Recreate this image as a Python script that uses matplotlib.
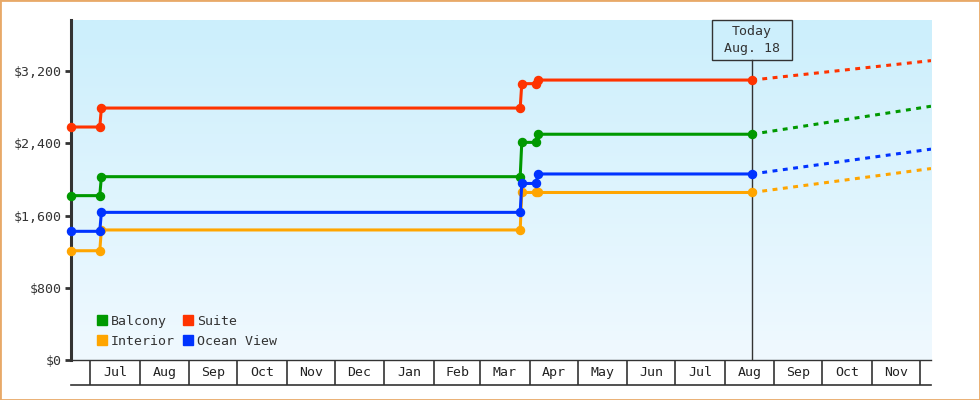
import matplotlib
matplotlib.use("Agg")
import matplotlib.pyplot as plt
import matplotlib.dates as mdates
from matplotlib.colors import LinearSegmentedColormap
from matplotlib.lines import Line2D
from matplotlib.patches import Rectangle
from matplotlib.ticker import FuncFormatter
import numpy as np
import pandas as pd

# observed fares (price changes)
dates = pd.to_datetime(["2023-06-19", "2023-07-07", "2023-07-08", "2024-03-26",
                        "2024-03-27", "2024-04-05", "2024-04-06", "2024-08-18"])
balcony = [1820, 1820, 2030, 2030, 2410, 2410, 2500, 2500]
suite = [2580, 2580, 2790, 2790, 3060, 3060, 3100, 3100]
interior = [1210, 1210, 1440, 1440, 1855, 1855, 1855, 1855]
ocean_view = [1425, 1425, 1635, 1635, 1955, 1955, 2060, 2060]

# forecast
forecast_dates = pd.to_datetime(["2024-08-18", "2024-12-08"])
balcony_fc = [2500, 2810]
suite_fc = [3100, 3315]
interior_fc = [1855, 2120]
ocean_view_fc = [2060, 2335]

today = pd.Timestamp("2024-08-18")
today_label = "Today\nAug. 18"
x_start, x_end = pd.Timestamp("2023-06-19"), pd.Timestamp("2024-12-08")
month_starts = pd.date_range("2023-07-01", "2024-12-01", freq="MS")
month_labels = ["Jul", "Aug", "Sep", "Oct", "Nov", "Dec", "Jan", "Feb", "Mar",
                "Apr", "May", "Jun", "Jul", "Aug", "Sep", "Oct", "Nov"]
y_ticks = [0, 800, 1600, 2400, 3200]
y_max = 3765

series = [
    ("Balcony", balcony, balcony_fc, "#009900"),
    ("Suite", suite, suite_fc, "#ff3300"),
    ("Interior", interior, interior_fc, "#ffa500"),
    ("Ocean View", ocean_view, ocean_view_fc, "#0033ff"),
]

plt.rcParams["font.family"] = ["DejaVu Sans Mono"]
dark = "#333333"

fig = plt.figure(figsize=(9.8, 4), dpi=100)
fig.patch.set_facecolor("white")
fig.patches.append(Rectangle((0, 0), 1, 1, transform=fig.transFigure, fill=False,
                             edgecolor="#e8a968", linewidth=2))

ax = fig.add_axes([71 / 980, 40 / 400, 860 / 980, 340 / 400])
band = fig.add_axes([71 / 980, 15 / 400, 860 / 980, 25 / 400])

# gradient background
cmap = LinearSegmentedColormap.from_list("bg", ["#f0f9ff", "#cceffc"])
ax.imshow(np.linspace(0, 1, 256).reshape(-1, 1), extent=[0, 1, 0, 1],
          transform=ax.transAxes, origin="lower", aspect="auto", cmap=cmap, zorder=0)

for name, vals, fc, color in series:
    ax.plot(dates, vals, color=color, lw=2.2, marker="o", markersize=5.8,
            solid_joinstyle="miter", clip_on=False, zorder=3)
    ax.plot(forecast_dates, fc, color=color, lw=2.2, linestyle=(0, (1.6, 1.8)),
            zorder=3)

ax.set_xlim(x_start, x_end)
ax.set_ylim(0, y_max)
ax.set_yticks(y_ticks)
ax.yaxis.set_major_formatter(FuncFormatter(lambda v, p: "${:,.0f}".format(v)))
ax.tick_params(axis="y", direction="out", length=4, width=2, color=dark,
               labelcolor=dark, labelsize=9.5, pad=3)
ax.set_xticks([])
for s in ["top", "right"]:
    ax.spines[s].set_visible(False)
ax.spines["left"].set_linewidth(2.2)
ax.spines["left"].set_color(dark)
ax.spines["bottom"].set_linewidth(1)
ax.spines["bottom"].set_color(dark)

# today marker and box
fig.canvas.draw()
tx, _ = ax.transData.transform((mdates.date2num(today), 0))
box_w, box_h = 80, 40
top_px = ax.transAxes.transform((0, 1))[1]
ax.axvline(today, ymin=0, ymax=(340 - box_h) / 340, color=dark, lw=1, zorder=2)
fig.patches.append(Rectangle((tx - box_w / 2, top_px - box_h), box_w, box_h,
                             transform=None, fill=False, edgecolor=dark, lw=1))
fig.text(tx / 980, (top_px - box_h / 2) / 400, today_label, ha="center", va="center",
         fontsize=9.5, color=dark, linespacing=1.45)

# legend
handles = [Line2D([], [], ls="", marker="s", markersize=7.5, color=series[i][3],
                  label=series[i][0]) for i in (0, 2, 1, 3)]
ax.legend(handles=handles, ncol=2, loc="lower left", bbox_to_anchor=(0.018, 0.004),
          frameon=False, fontsize=9.5, handlelength=0.8, handletextpad=0.25,
          columnspacing=0.6, labelspacing=0.55, borderpad=0.3, labelcolor=dark)

# month band
band.set_xlim(x_start, x_end)
band.set_ylim(0, 1)
band.set_xticks([])
band.set_yticks([])
band.patch.set_alpha(0)
for s in ["top", "left", "right"]:
    band.spines[s].set_visible(False)
band.spines["bottom"].set_color(dark)
band.spines["bottom"].set_linewidth(1.2)
for m in month_starts:
    band.axvline(m, color=dark, lw=1.2)
for i, lab in enumerate(month_labels):
    mid = month_starts[i] + (month_starts[i + 1] - month_starts[i]) / 2
    band.text(mid, 0.5, lab, ha="center", va="center", fontsize=9.5, color="#222222")

fig.savefig("out.png", dpi=100)
